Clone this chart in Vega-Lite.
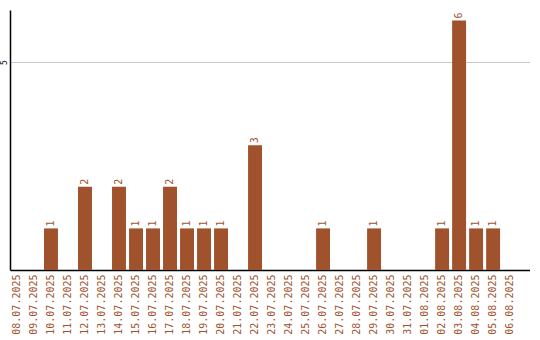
{
  "$schema": "https://vega.github.io/schema/vega-lite/v6.json",
  "width": 520,
  "height": 260,
  "padding": {"left": 0, "top": 10, "right": 0, "bottom": 0},
  "background": "white",
  "config": {
    "view": {"stroke": null},
    "font": "DejaVu Sans Mono"
  },
  "data": {
    "values": [
      {"day": "08.07.2025", "n": 0},
      {"day": "09.07.2025", "n": 0},
      {"day": "10.07.2025", "n": 1},
      {"day": "11.07.2025", "n": 0},
      {"day": "12.07.2025", "n": 2},
      {"day": "13.07.2025", "n": 0},
      {"day": "14.07.2025", "n": 2},
      {"day": "15.07.2025", "n": 1},
      {"day": "16.07.2025", "n": 1},
      {"day": "17.07.2025", "n": 2},
      {"day": "18.07.2025", "n": 1},
      {"day": "19.07.2025", "n": 1},
      {"day": "20.07.2025", "n": 1},
      {"day": "21.07.2025", "n": 0},
      {"day": "22.07.2025", "n": 3},
      {"day": "23.07.2025", "n": 0},
      {"day": "24.07.2025", "n": 0},
      {"day": "25.07.2025", "n": 0},
      {"day": "26.07.2025", "n": 1},
      {"day": "27.07.2025", "n": 0},
      {"day": "28.07.2025", "n": 0},
      {"day": "29.07.2025", "n": 1},
      {"day": "30.07.2025", "n": 0},
      {"day": "31.07.2025", "n": 0},
      {"day": "01.08.2025", "n": 0},
      {"day": "02.08.2025", "n": 1},
      {"day": "03.08.2025", "n": 6},
      {"day": "04.08.2025", "n": 1},
      {"day": "05.08.2025", "n": 1},
      {"day": "06.08.2025", "n": 0}
    ]
  },
  "encoding": {
    "x": {
      "field": "day",
      "type": "ordinal",
      "sort": null,
      "title": null,
      "scale": {"paddingInner": 0.18, "paddingOuter": 0.38, "align": 0},
      "axis": {
        "labelAngle": -90,
        "labelAlign": "right",
        "labelBaseline": "middle",
        "labelFontSize": 10,
        "labelColor": "#A0522D",
        "labelPadding": 4,
        "ticks": false,
        "domainColor": "#000000",
        "domainWidth": 1.5
      }
    },
    "y": {
      "field": "n",
      "type": "quantitative",
      "title": null,
      "scale": {"domain": [0, 6.25], "nice": false},
      "axis": {
        "values": [5],
        "labelAngle": -90,
        "labelAlign": "center",
        "labelBaseline": "bottom",
        "labelFontSize": 8,
        "labelColor": "#000000",
        "labelPadding": 2,
        "ticks": false,
        "grid": true,
        "gridColor": "#c8c8c8",
        "gridWidth": 1,
        "domainColor": "#000000",
        "domainWidth": 1.5
      }
    }
  },
  "layer": [
    {
      "mark": {"type": "bar", "color": "#A0522D"}
    },
    {
      "transform": [{"filter": "datum.n > 0"}],
      "mark": {
        "type": "text",
        "angle": -90,
        "align": "left",
        "baseline": "middle",
        "dx": 2,
        "fontSize": 10,
        "color": "#A0522D"
      },
      "encoding": {"text": {"field": "n", "type": "quantitative"}}
    }
  ]
}
